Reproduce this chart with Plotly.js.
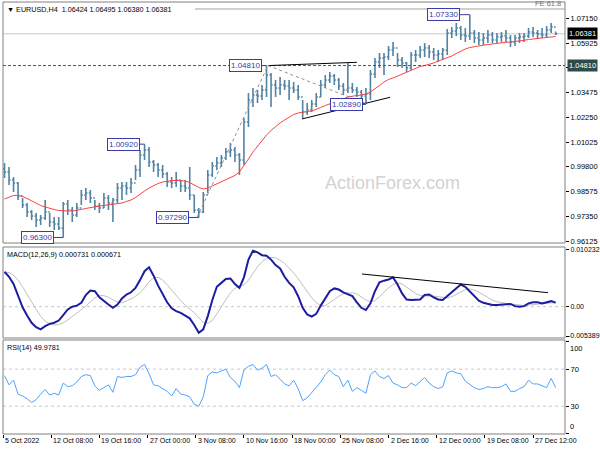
<!DOCTYPE html>
<html><head><meta charset="utf-8">
<script src="https://cdn.plot.ly/plotly-3.0.1.min.js"></script>
<style>html,body{margin:0;padding:0;background:#fff}#chart{width:600px;height:450px}</style>
</head><body><div id="chart"></div>
<script>
// ---- DATA (each entry = 3 H4 bars) ----
const firstOpen = 0.99700;
const high = [0.99987,0.99790,0.99295,0.99047,0.98255,0.98008,0.97661,0.97513,0.97414,0.98156,
0.97513,0.97315,0.97315,0.98057,0.98156,0.97809,0.98008,0.98651,0.98750,0.98651,
0.98156,0.98008,0.98503,0.98404,0.98255,0.98998,0.99047,0.99047,0.99245,0.99889,
1.00631,1.00920,1.00780,1.00136,0.99987,0.99889,0.99542,0.99295,0.99542,0.99146,
0.99146,0.99790,0.98404,0.97760,0.98552,0.99641,1.00037,1.00285,1.00384,1.00730,
1.00977,1.00780,1.00483,1.02215,1.03452,1.03700,1.03601,1.03849,1.04810,1.04443,
1.04096,1.04245,1.04096,1.04096,1.03997,1.03849,1.03106,1.02957,1.03106,1.03452,
1.04096,1.04344,1.04492,1.04393,1.04195,1.03948,1.04938,1.03948,1.03750,1.03601,
1.03700,1.04591,1.05185,1.05433,1.05433,1.05779,1.05977,1.05433,1.05235,1.04987,
1.05482,1.05581,1.05779,1.05928,1.05829,1.05680,1.05581,1.05680,1.06621,1.06720,
1.06918,1.06769,1.06670,1.07330,1.06571,1.06472,1.06423,1.06571,1.06472,1.06423,
1.06472,1.06571,1.06324,1.06324,1.06423,1.06423,1.06670,1.06720,1.06571,1.06670,
1.06769,1.06918,1.06495];
const low = [0.99245,0.98899,0.98552,0.98156,0.97760,0.97315,0.97166,0.96820,0.96919,0.97166,
0.96820,0.96671,0.96671,0.96300,0.97414,0.97067,0.97315,0.97909,0.98156,0.98008,
0.97661,0.97513,0.97760,0.97661,0.97067,0.98008,0.98156,0.98404,0.98503,0.99146,
0.99295,1.00136,0.99790,0.99542,0.99295,0.99245,0.98800,0.98750,0.98800,0.98552,
0.98552,0.98156,0.97513,0.97290,0.97513,0.98503,0.99295,0.99641,0.99790,1.00136,
1.00285,1.00037,0.99394,0.99889,1.01770,1.02760,1.02957,1.03106,1.03254,1.02760,
1.03254,1.03353,1.03601,1.03106,1.03452,1.03106,1.02215,1.02364,1.02512,1.02760,
1.03254,1.03700,1.03948,1.03849,1.03601,1.03353,1.03452,1.03452,1.03254,1.03106,
1.02890,1.03106,1.04195,1.04690,1.04344,1.05086,1.05284,1.04740,1.04690,1.04492,
1.04591,1.04987,1.05185,1.05235,1.05185,1.05086,1.04987,1.05086,1.05334,1.06175,
1.06274,1.06076,1.05977,1.06076,1.05928,1.05829,1.05829,1.05928,1.05928,1.05928,
1.05977,1.05977,1.05730,1.05779,1.05928,1.05977,1.06175,1.06225,1.06175,1.06175,
1.06225,1.06423,1.06324];
const close = [0.99542,0.99146,0.98998,0.98354,0.97909,0.97562,0.97364,0.97166,0.97265,0.97562,
0.97067,0.96968,0.96770,0.97958,0.97661,0.97414,0.97760,0.98404,0.98503,0.98255,
0.97859,0.97760,0.98255,0.98008,0.98156,0.98750,0.98849,0.98750,0.98998,0.99641,
1.00384,1.00631,1.00037,0.99889,0.99641,0.99443,0.99047,0.98998,0.99146,0.98849,
0.98750,0.98404,0.97661,0.97562,0.98404,0.99394,0.99839,0.99987,1.00235,1.00532,
1.00631,1.00384,1.00136,1.02017,1.03106,1.03353,1.03304,1.03601,1.04344,1.03849,
1.03700,1.03849,1.03799,1.03700,1.03601,1.03254,1.02512,1.02611,1.02908,1.03254,
1.03849,1.04096,1.04294,1.04096,1.03799,1.03601,1.03700,1.03601,1.03502,1.03304,
1.03403,1.04393,1.04987,1.05185,1.05235,1.05581,1.05680,1.05086,1.04938,1.04690,
1.05334,1.05334,1.05581,1.05680,1.05482,1.05334,1.05383,1.05581,1.06423,1.06522,
1.06670,1.06324,1.06274,1.06423,1.06175,1.06076,1.06175,1.06324,1.06076,1.06225,
1.06274,1.06175,1.05977,1.06175,1.06225,1.06274,1.06472,1.06423,1.06373,1.06324,
1.06571,1.06720,1.06381];
const ma = [0.98206,0.98305,0.98379,0.98379,0.98329,0.98230,0.98106,0.97983,0.97884,0.97809,
0.97735,0.97686,0.97636,0.97611,0.97611,0.97611,0.97636,0.97686,0.97735,0.97785,
0.97834,0.97859,0.97884,0.97908,0.97933,0.97958,0.98008,0.98082,0.98156,0.98280,
0.98453,0.98602,0.98750,0.98874,0.98973,0.99047,0.99097,0.99121,0.99121,0.99121,
0.99097,0.99022,0.98899,0.98775,0.98701,0.98750,0.98849,0.98948,0.99047,0.99146,
0.99245,0.99369,0.99542,0.99839,1.00186,1.00532,1.00829,1.01126,1.01374,1.01596,
1.01794,1.01968,1.02116,1.02265,1.02388,1.02463,1.02512,1.02537,1.02562,1.02636,
1.02735,1.02834,1.02908,1.02982,1.03057,1.03156,1.03255,1.03304,1.03329,1.03354,
1.03403,1.03502,1.03650,1.03824,1.03997,1.04121,1.04195,1.04294,1.04393,1.04492,
1.04591,1.04690,1.04764,1.04814,1.04863,1.04938,1.05037,1.05111,1.05185,1.05284,
1.05408,1.05532,1.05631,1.05705,1.05754,1.05779,1.05819,1.05853,1.05888,1.05928,
1.05947,1.05962,1.05977,1.05997,1.06027,1.06061,1.06101,1.06125,1.06145,1.06165,
1.06185,1.06215,1.06249];
const macd = [0.0063,0.0054,0.0041,0.0018,-0.0001,-0.0016,-0.0029,-0.0037,-0.0041,-0.0035,
-0.0031,-0.0029,-0.0025,-0.0015,-0.0005,0.0000,0.0002,0.0007,0.0021,0.0029,
0.0028,0.0017,0.0010,0.0004,-0.0002,0.0004,0.0015,0.0022,0.0026,0.0034,
0.0048,0.0064,0.0071,0.0056,0.0038,0.0022,0.0008,-0.0003,-0.0008,-0.0011,
-0.0016,-0.0021,-0.0033,-0.0047,-0.0041,-0.0017,0.0012,0.0036,0.0043,0.0050,
0.0051,0.0041,0.0034,0.0053,0.0085,0.0101,0.0098,0.0093,0.0092,0.0085,
0.0075,0.0069,0.0054,0.0043,0.0035,0.0019,-0.0002,-0.0014,-0.0018,-0.0013,
0.0002,0.0015,0.0028,0.0033,0.0031,0.0026,0.0022,0.0019,0.0008,-0.0002,
-0.0006,0.0006,0.0028,0.0044,0.0047,0.0049,0.0053,0.0040,0.0024,0.0013,
0.0012,0.0012,0.0013,0.0021,0.0022,0.0017,0.0013,0.0012,0.0019,0.0027,
0.0034,0.0040,0.0036,0.0027,0.0019,0.0011,0.0007,0.0005,0.0003,0.0003,
0.0004,0.0005,0.0005,0.0001,0.0000,0.0001,0.0006,0.0008,0.0008,0.0006,
0.0008,0.0010,0.000731];
const signal = [0.0060,0.0062,0.0057,0.0048,0.0036,0.0022,0.0009,-0.0005,-0.0017,-0.0026,
-0.0031,-0.0033,-0.0032,-0.0029,-0.0024,-0.0018,-0.0012,-0.0006,0.0001,0.0009,
0.0016,0.0020,0.0020,0.0017,0.0012,0.0008,0.0007,0.0010,0.0014,0.0019,
0.0025,0.0034,0.0045,0.0052,0.0053,0.0048,0.0040,0.0030,0.0020,0.0011,
0.0003,-0.0004,-0.0011,-0.0020,-0.0028,-0.0030,-0.0025,-0.0013,0.0000,0.0013,
0.0025,0.0033,0.0037,0.0039,0.0048,0.0060,0.0072,0.0081,0.0087,0.0089,
0.0088,0.0084,0.0078,0.0070,0.0061,0.0051,0.0039,0.0027,0.0016,0.0007,
0.0002,0.0002,0.0007,0.0013,0.0019,0.0023,0.0025,0.0025,0.0023,0.0018,
0.0012,0.0009,0.0011,0.0018,0.0026,0.0034,0.0040,0.0043,0.0041,0.0035,
0.0029,0.0024,0.0020,0.0019,0.0019,0.0019,0.0018,0.0017,0.0016,0.0018,
0.0022,0.0027,0.0031,0.0032,0.0030,0.0026,0.0021,0.0016,0.0012,0.0009,
0.0007,0.0006,0.0005,0.0004,0.0003,0.0002,0.0003,0.0004,0.0005,0.0006,
0.0006,0.0007,0.000671];
const rsi = [63,53,58,43,41,38,34,37,43,48,
42,44,42,55,51,52,56,62,64,63,
52,47,50,53,45,62,61,62,62,64,
72,75,65,53,52,49,46,41,49,43,
42,40,32,30,40,63,67,66,68,70,
61,57,50,69,73,75,69,71,75,62,
64,59,54,52,58,49,36,39,45,51,
56,64,69,64,62,51,58,46,50,47,
44,64,68,62,60,63,55,53,50,50,
55,52,56,61,55,51,49,51,66,68,
66,65,57,53,50,48,49,51,50,50,
51,54,46,46,49,51,58,54,54,52,
50,60,49.9781];
const tickPos = [0,32,64,96,128,160,192,224,256,288,320,352];
const tickText = ['5 Oct 2022','12 Oct 08:00','19 Oct 16:00','27 Oct 00:00','3 Nov 08:00','10 Nov 16:00',
'18 Nov 00:00','25 Nov 08:00','2 Dec 16:00','12 Dec 00:00','19 Dec 08:00','27 Dec 12:00'];
const priceTicks = [0.96125,0.97350,0.98575,0.99800,1.01025,1.02250,1.03475,1.04700,1.05925,1.07150];
const macdTicks = [0.010232,0,-0.005389];
const macdTickText = ['0.010232','0.00','-0.005389'];
const rsiTicks = [100,70,30,0];
const pivotLabels = ['0.96300','1.00920','0.97290','1.04810','1.02890','1.07330'];

// ---- build ----
const BAR = 3; // H4 bars per entry
const x = close.map((_, i) => i * BAR + 1);
const open = [firstOpen].concat(close.slice(0, -1));
const barColor = '#5283a3';
const F = 'Liberation Sans, Arial, sans-serif';

const traces = [
  {type:'ohlc', x:x, open:open, high:high, low:low, close:close, xaxis:'x', yaxis:'y',
   increasing:{line:{color:barColor, width:1.6}}, decreasing:{line:{color:barColor, width:1.6}},
   tickwidth:0.35, hoverinfo:'skip'},
  {type:'scatter', mode:'lines', x:x, y:ma, line:{color:'#ff4040', width:1}, xaxis:'x', yaxis:'y', hoverinfo:'skip'},
  {type:'scatter', mode:'lines', x:x, y:signal, line:{color:'#c0c0c0', width:1}, xaxis:'x', yaxis:'y2', hoverinfo:'skip'},
  {type:'scatter', mode:'lines', x:x, y:macd, line:{color:'#1c1ca0', width:2}, xaxis:'x', yaxis:'y2', hoverinfo:'skip'},
  {type:'scatter', mode:'lines', x:x, y:rsi, line:{color:'#4da3ff', width:1}, xaxis:'x', yaxis:'y3', hoverinfo:'skip'}
];

// pivot label positions: [label index, x of box centre (H4 index), x of bar]
const pivPos = [[0,22.9,40],[1,79.7,94],[2,112.5,130],[3,160.7,175],[4,227.8,241],[5,292.8,310]];
const blue = '#3a3aa8';
const annotations = [];
const shapes = [];
pivPos.forEach(([k, cx, bx]) => {
  const v = parseFloat(pivotLabels[k]);
  annotations.push({xref:'x', yref:'y', x:cx, y:v, text:pivotLabels[k], showarrow:false,
    font:{family:F, size:8, color:blue}, bgcolor:'#fff', bordercolor:blue, borderwidth:1, borderpad:1});
  shapes.push({type:'line', xref:'x', yref:'y', x0:cx + 10.6, x1:bx, y0:v, y1:v, line:{color:blue, width:1}});
});

const gray = '#808080';
// panel frames
['y','y2','y3'].forEach(a => shapes.push({type:'rect', xref:'paper', yref:a + ' domain', x0:0, x1:1, y0:0, y1:1,
  line:{color:gray, width:1}, fillcolor:'rgba(0,0,0,0)', layer:'above'}));
// horizontal lines
shapes.push({type:'line', xref:'paper', yref:'y', x0:0, x1:1, y0:1.04810, y1:1.04810, line:{color:'#505050', width:1, dash:'3px,2px'}});
shapes.push({type:'line', xref:'paper', yref:'y', x0:0, x1:1, y0:1.06381, y1:1.06381, line:{color:'#c8c8c8', width:1}, layer:'below'});
shapes.push({type:'line', xref:'x', yref:'y', x0:127.5, x1:373.2, y0:1.07611, y1:1.07611, line:{color:'#a0a0a0', width:1}});
// trend lines
shapes.push({type:'line', xref:'x', yref:'y', x0:176, x1:235, y0:1.04810, y1:1.04972, line:{color:'#000', width:1}});
shapes.push({type:'line', xref:'x', yref:'y', x0:198.5, x1:257, y0:1.02166, y1:1.03240, line:{color:'#000', width:1}});
shapes.push({type:'line', xref:'x', yref:'y', x0:128.8, x1:176, y0:0.97290, y1:1.04810, line:{color:'#909090', width:1, dash:'dot'}});
shapes.push({type:'line', xref:'x', yref:'y', x0:176, x1:242.4, y0:1.04810, y1:1.02890, line:{color:'#909090', width:1, dash:'dot'}});
shapes.push({type:'line', xref:'x', yref:'y2', x0:238.4, x1:361.9, y0:0.0059, y1:0.00253, line:{color:'#000', width:1}});
// indicator levels
shapes.push({type:'line', xref:'paper', yref:'y2', x0:0, x1:1, y0:0, y1:0, line:{color:'#c8c8c8', width:1, dash:'dot'}, layer:'below'});
shapes.push({type:'line', xref:'paper', yref:'y3', x0:0, x1:1, y0:70, y1:70, line:{color:'#c8c8c8', width:1, dash:'dot'}, layer:'below'});
shapes.push({type:'line', xref:'paper', yref:'y3', x0:0, x1:1, y0:30, y1:30, line:{color:'#c8c8c8', width:1, dash:'dot'}, layer:'below'});

// texts
annotations.push({xref:'paper', yref:'paper', x:0.004, y:0.998, xanchor:'left', yanchor:'top', showarrow:false,
  text:'\u25BC EURUSD,H4\u00a0 1.06424 1.06495 1.06380 1.06381', font:{family:F, size:7.2, color:'#000'}});
annotations.push({xref:'paper', yref:'y2 domain', x:0.004, y:0.985, xanchor:'left', yanchor:'top', showarrow:false,
  text:'MACD(12,26,9) 0.000731 0.000671', font:{family:F, size:7.2, color:'#000'}});
annotations.push({xref:'paper', yref:'y3 domain', x:0.004, y:0.985, xanchor:'left', yanchor:'top', showarrow:false,
  text:'RSI(14) 49.9781', font:{family:F, size:7.2, color:'#000'}});
annotations.push({xref:'paper', yref:'y', x:0.996, y:1.07611, xanchor:'right', yanchor:'bottom', showarrow:false,
  text:'FE 61.8', font:{family:F, size:7.5, color:'#707070'}, yshift:-1});
annotations.push({xref:'x', yref:'y', x:258.5, y:0.99000, showarrow:false,
  text:'ActionForex.com', font:{family:F, size:18, color:'#d2d2d2'}});
annotations.push({xref:'paper', yref:'y', x:1, y:1.06381, xanchor:'left', xshift:2, showarrow:false,
  text:'1.06381', bgcolor:'#000', borderpad:1, font:{family:F, size:7.5, color:'#fff'}});
annotations.push({xref:'paper', yref:'y', x:1, y:1.04810, xanchor:'left', xshift:2, showarrow:false,
  text:'1.04810', bgcolor:'#2f4a4a', borderpad:1, font:{family:F, size:7.5, color:'#fff'}});
// MACD lowest label, kept inside the page
annotations.push({xref:'paper', yref:'y2', x:1, y:macdTicks[2], xanchor:'left', xshift:1, yshift:1, showarrow:false,
  text:macdTickText[2], font:{family:F, size:7, color:'#000'}});
// RSI end labels (MT4 draws them just inside the window)
annotations.push({xref:'paper', yref:'y3', x:1, y:100, xanchor:'left', yanchor:'top', xshift:3, yshift:-1, showarrow:false,
  text:String(rsiTicks[0]), font:{family:F, size:7.5, color:'#000'}});
annotations.push({xref:'paper', yref:'y3', x:1, y:0, xanchor:'left', yanchor:'bottom', xshift:3, yshift:1, showarrow:false,
  text:String(rsiTicks[3]), font:{family:F, size:7.5, color:'#000'}});
// x-axis labels, left-aligned at their ticks
tickPos.forEach((p, k) => annotations.push({xref:'x', yref:'paper', x:p, y:0, xanchor:'left', yanchor:'top',
  xshift:0, yshift:-0.5, showarrow:false, text:tickText[k], font:{family:F, size:7, color:'#000'}}));

const yCommon = {side:'right', ticks:'outside', ticklen:3, tickcolor:'#000', showgrid:false, zeroline:false,
  showline:false, tickfont:{family:F, size:7.5, color:'#000'}, fixedrange:true};

const layout = {
  width:600, height:450,
  margin:{l:3, r:35, t:2, b:16},
  paper_bgcolor:'#fff', plot_bgcolor:'#fff',
  showlegend:false,
  font:{family:F, size:7.5, color:'#000'},
  xaxis:{range:[0,373.2], anchor:'y3', tickmode:'array', tickvals:tickPos, showticklabels:false,
    ticks:'outside', ticklen:3, tickcolor:'#000',
    showgrid:false, zeroline:false, showline:false, rangeslider:{visible:false}, fixedrange:true},
  yaxis:Object.assign({}, yCommon, {domain:[0.4421,1], range:[0.96026,1.07957], tickmode:'array',
    tickvals:priceTicks, ticktext:priceTicks.map(v => v === 1.04700 ? '' : v.toFixed(5))}),
  yaxis2:Object.assign({}, yCommon, {domain:[0.2222,0.4329], range:[-0.00565,0.010776], tickmode:'array',
    tickvals:macdTicks, ticktext:macdTickText.map((t, k) => k === 2 ? '' : t), tickfont:{family:F, size:7, color:'#000'}}),
  yaxis3:Object.assign({}, yCommon, {domain:[0,0.2176], range:[0,101.4], tickmode:'array',
    tickvals:rsiTicks, ticktext:rsiTicks.map(v => (v === 100 || v === 0) ? '' : String(v))}),
  shapes:shapes,
  annotations:annotations
};

Plotly.newPlot('chart', traces, layout, {staticPlot:true, displayModeBar:false});
</script></body></html>
